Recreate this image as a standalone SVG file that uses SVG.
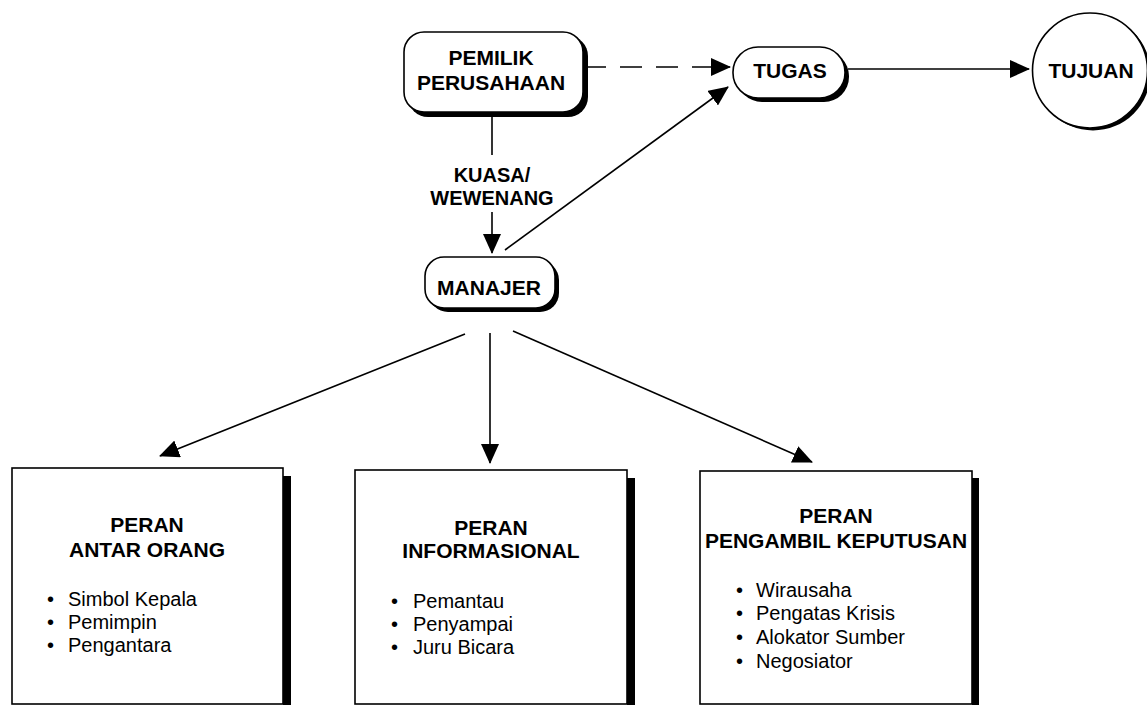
<svg xmlns="http://www.w3.org/2000/svg" width="1147" height="705" viewBox="0 0 1147 705">
<style>
  text { font-family: "Liberation Sans", Arial, Helvetica, sans-serif; fill: #000; }
  .h { font-weight: bold; font-size: 21px; text-anchor: middle; }
  .lbl { font-weight: bold; font-size: 20px; text-anchor: middle; }
  .it { font-size: 20px; }
  .box { fill: #fff; stroke: #000; stroke-width: 1.6; }
  .sh { fill: #000; stroke: none; }
  .ln { stroke: #000; stroke-width: 1.6; fill: none; }
  .dash { stroke-dasharray: 22 14; }
</style>
<defs>
  <marker id="ah" markerUnits="userSpaceOnUse" markerWidth="20" markerHeight="18" viewBox="0 0 20 18" refX="19" refY="9" orient="auto">
    <path d="M0,0 L20,9 L0,18 Z" fill="#000"/>
  </marker>
</defs>
<rect width="1147" height="705" fill="#fff"/>

<g id="connectors">
  <line class="ln dash" x1="584" y1="67" x2="730" y2="67" marker-end="url(#ah)"/>
  <line class="ln" x1="848" y1="69" x2="1029" y2="69" marker-end="url(#ah)"/>
  <line class="ln" x1="492" y1="113" x2="492" y2="155"/>
  <line class="ln" x1="492" y1="212" x2="492" y2="253" marker-end="url(#ah)"/>
  <line class="ln" x1="505" y1="250" x2="728" y2="87" marker-end="url(#ah)"/>
  <line class="ln" x1="465" y1="334" x2="160" y2="456" marker-end="url(#ah)"/>
  <line class="ln" x1="490" y1="333" x2="490" y2="463" marker-end="url(#ah)"/>
  <line class="ln" x1="513" y1="331" x2="812" y2="462" marker-end="url(#ah)"/>
  <text class="lbl" x="492" y="182">KUASA/</text>
  <text class="lbl" x="492" y="205">WEWENANG</text>
</g>

<g id="pemilik">
  <rect class="sh" x="408" y="36" width="180" height="81" rx="20"/>
  <rect class="box" x="404" y="32" width="179" height="80" rx="20"/>
  <text class="h" x="491" y="65">PEMILIK</text>
  <text class="h" x="491" y="90">PERUSAHAAN</text>
</g>

<g id="tugas">
  <rect class="sh" x="737" y="51" width="112" height="51" rx="25"/>
  <rect class="box" x="733" y="47" width="112" height="51" rx="25"/>
  <text class="h" x="790" y="78">TUGAS</text>
</g>

<g id="tujuan">
  <circle class="sh" cx="1093" cy="73" r="57.5"/>
  <circle class="box" cx="1090" cy="70.5" r="57.5"/>
  <text class="h" x="1091" y="78">TUJUAN</text>
</g>

<g id="manajer">
  <rect class="sh" x="429" y="261" width="130" height="51" rx="19"/>
  <rect class="box" x="425" y="257" width="130" height="51" rx="19"/>
  <text class="h" x="489" y="295">MANAJER</text>
</g>

<g id="peran-antar-orang">
  <rect class="sh" x="283" y="476" width="8" height="229"/>
  <rect class="box" x="12" y="468" width="271" height="236"/>
  <text class="h" x="147" y="532">PERAN</text>
  <text class="h" x="147" y="557">ANTAR ORANG</text>
  <text class="it" x="47" y="606">•</text><text class="it" x="68" y="606">Simbol Kepala</text>
  <text class="it" x="47" y="629">•</text><text class="it" x="68" y="629">Pemimpin</text>
  <text class="it" x="47" y="652">•</text><text class="it" x="68" y="652">Pengantara</text>
</g>

<g id="peran-informasional">
  <rect class="sh" x="627" y="478" width="8" height="227"/>
  <rect class="box" x="355" y="470" width="272" height="234"/>
  <text class="h" x="491" y="535">PERAN</text>
  <text class="h" x="491" y="558">INFORMASIONAL</text>
  <text class="it" x="391" y="608">•</text><text class="it" x="413" y="608">Pemantau</text>
  <text class="it" x="391" y="631">•</text><text class="it" x="413" y="631">Penyampai</text>
  <text class="it" x="391" y="654">•</text><text class="it" x="413" y="654">Juru Bicara</text>
</g>

<g id="peran-pengambil-keputusan">
  <rect class="sh" x="972" y="478" width="7" height="227"/>
  <rect class="box" x="700" y="471" width="272" height="233"/>
  <text class="h" x="836" y="523">PERAN</text>
  <text class="h" x="836" y="548">PENGAMBIL KEPUTUSAN</text>
  <text class="it" x="736" y="597">•</text><text class="it" x="756" y="597">Wirausaha</text>
  <text class="it" x="736" y="620">•</text><text class="it" x="756" y="620">Pengatas Krisis</text>
  <text class="it" x="736" y="644">•</text><text class="it" x="756" y="644">Alokator Sumber</text>
  <text class="it" x="736" y="668">•</text><text class="it" x="756" y="668">Negosiator</text>
</g>
</svg>
